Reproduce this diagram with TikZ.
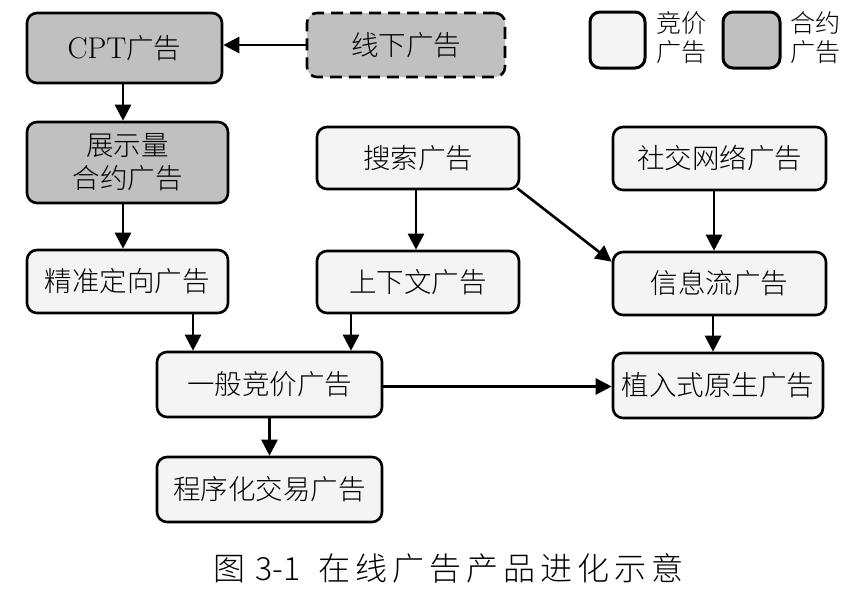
\documentclass[tikz,border=0pt]{standalone}
\usepackage{fontspec}
\newfontfamily\cjk{Noto Sans CJK SC Light}
\usetikzlibrary{arrows.meta,calc}
\definecolor{boxgray}{RGB}{192,192,192}
\definecolor{boxlight}{RGB}{244,244,244}
\newcommand\cg{\hspace{5pt}}
\begin{document}
\begin{tikzpicture}[x=1pt,y=-1pt,
  box/.style={draw=black, line width=2.6pt, rounded corners=10pt, fill=boxlight,
    inner sep=0pt, align=center, font=\fontsize{27.5}{33}\selectfont\cjk},
  graybox/.style={box, fill=boxgray},
  legbox/.style={draw=black, line width=3pt, rounded corners=10pt, inner sep=0pt,
    minimum width=55pt, minimum height=56pt},
  legtext/.style={inner sep=0pt, align=center, font=\fontsize{25}{29}\selectfont\cjk},
  arr/.style={line width=2.6pt, -{Triangle[length=16pt,width=16pt]}}]
\useasboundingbox[fill=white] (0,0) rectangle (868,600);

% legend
\node[legbox, fill=boxlight] (leg1) at (617.5,40) {};
\node[legtext] (leg1t) at (681,38) {竞价\\广告};
\node[legbox, fill=boxgray, minimum width=57pt] (leg2) at (751.5,40) {};
\node[legtext] (leg2t) at (815,38) {合约\\广告};

% boxes
\node[graybox, minimum width=195pt, minimum height=70pt] (cpt) at (124.5,48) {{\rmfamily\fontsize{30}{33}\selectfont CPT}广告};
\node[graybox, dash pattern=on 12pt off 7pt, minimum width=198pt, minimum height=64pt] (xianxia) at (406,45) {线下广告};
\node[graybox, minimum width=201pt, minimum height=81pt] (zhanshi) at (127.5,162.5) {展示量\\合约广告};
\node[box, minimum width=201pt, minimum height=63pt] (jingzhun) at (127.5,281.5) {精准定向广告};
\node[box, minimum width=202pt, minimum height=62pt] (search) at (418,158) {搜索广告};
\node[box, minimum width=202pt, minimum height=62pt] (context) at (418,282) {上下文广告};
\node[box, minimum width=213pt, minimum height=63pt] (social) at (719.5,158.5) {社交网络广告};
\node[box, minimum width=213pt, minimum height=63pt] (feed) at (719.5,283.5) {信息流广告};
\node[box, minimum width=225pt, minimum height=65pt] (bidding) at (269.5,384.5) {一般竞价广告};
\node[box, minimum width=225pt, minimum height=65pt] (programmatic) at (269.5,489.5) {程序化交易广告};
\node[box, minimum width=210pt, minimum height=65pt] (native) at (718,385.5) {植入式原生广告};

% caption
\node[inner sep=0pt, font=\fontsize{32}{36}\selectfont\cjk] (caption) at (448.5,568)
  {图\hspace*{10pt}3-1\hspace*{18pt}在\cg 线\cg 广\cg 告\cg 产\cg 品\cg 进\cg 化\cg 示\cg 意};

% connectors
\draw[arr] (xianxia.west) -- (xianxia.west -| cpt.east);
\draw[arr] ([xshift=-1.5pt]cpt.south) coordinate (c1) -- (c1 |- zhanshi.north);
\draw[arr] ([xshift=-4.5pt]zhanshi.south) coordinate (c2) -- (c2 |- jingzhun.north);
\draw[arr] ([xshift=65.5pt]jingzhun.south) coordinate (c3) -- (c3 |- bidding.north);
\draw[arr] ([xshift=-67pt]context.south) coordinate (c4) -- (c4 |- bidding.north);
\draw[arr] ([xshift=-2pt]search.south) coordinate (c5) -- (c5 |- context.north);
\draw[arr] ([xshift=-3pt,yshift=2pt]search.south east) -- ([yshift=-11pt]feed.north west);
\draw[arr] ([xshift=-5.5pt]social.south) coordinate (c6) -- (c6 |- feed.north);
\draw[arr] ([xshift=-6.5pt]feed.south) coordinate (c7) -- (c7 |- native.north);
\draw[arr] ([yshift=-2pt]bidding.east) coordinate (c8) -- (c8 -| native.west);
\draw[arr] (bidding.south) -- (programmatic.north);
\end{tikzpicture}
\end{document}
